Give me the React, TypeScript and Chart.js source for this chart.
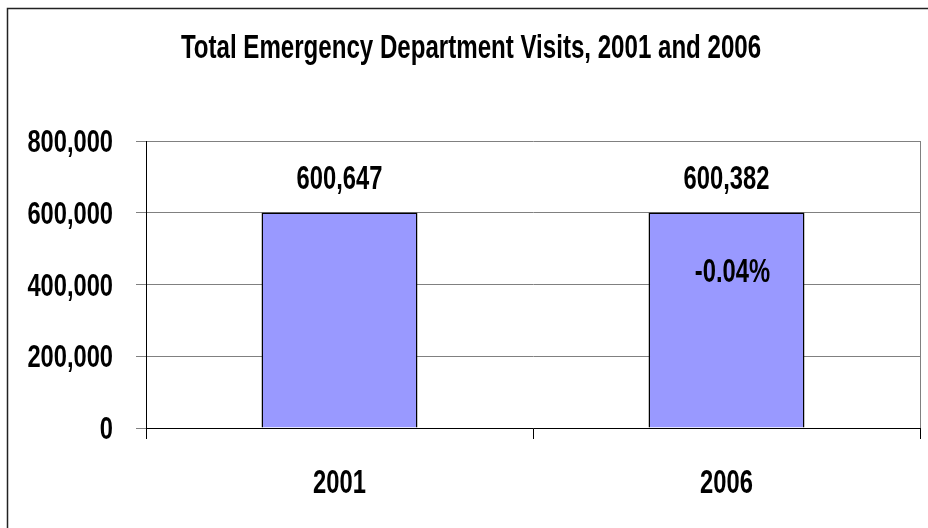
import React, { useEffect, useRef } from "react";
import { Chart, registerables } from "chart.js";

Chart.register(...registerables);

const categories = ["2001", "2006"];
const visits = [600647, 600382];
const valueLabels = ["600,647", "600,382"];
const changeLabels = ["", "-0.04%"];
const yTicks = [0, 200000, 400000, 600000, 800000];
const chartTitle = "Total Emergency Department Visits, 2001 and 2006";

const FONT = "'Liberation Sans', Arial, sans-serif";
const NARROW = 0.72;
const SIZE = 33;

function narrowText(ctx: any, text: string, x: number, y: number, align: string, size: number, narrow: number) {
  ctx.save();
  ctx.translate(x, y);
  ctx.scale(narrow, 1);
  ctx.font = "bold " + size + "px " + FONT;
  ctx.fillStyle = "#000000";
  ctx.textAlign = align;
  ctx.textBaseline = "alphabetic";
  ctx.fillText(text, 0, 0);
  ctx.restore();
}

const decorPlugin = {
  id: "decor",
  beforeDraw(chart: any) {
    const { ctx, width, height } = chart;
    ctx.save();
    ctx.fillStyle = "#ffffff";
    ctx.fillRect(0, 0, width, height);
    ctx.restore();
  },
  afterDraw(chart: any) {
    const { ctx, chartArea } = chart;
    ctx.save();
    // outer frame
    ctx.strokeStyle = "#222222";
    ctx.lineWidth = 1.5;
    ctx.strokeRect(7.5, 8.5, 2000, 2000);
    // right plot border
    ctx.strokeStyle = "#808080";
    ctx.lineWidth = 1;
    ctx.beginPath();
    ctx.moveTo(Math.round(chartArea.right) + 0.5, chartArea.top);
    ctx.lineTo(Math.round(chartArea.right) + 0.5, chartArea.bottom);
    ctx.stroke();
    ctx.restore();

    // title
    narrowText(ctx, chartTitle, 471, 58, "center", SIZE, 0.73);

    // y tick labels
    const yScale = chart.scales.y;
    yScale.ticks.forEach((t: any) => {
      narrowText(ctx, Number(t.value).toLocaleString("en-US"), 113, yScale.getPixelForValue(t.value) + 11, "right", 32, 0.74);
    });
    // x tick labels
    const xScale = chart.scales.x;
    categories.forEach((c, i) => {
      narrowText(ctx, c, xScale.getPixelForValue(i), 493, "center", SIZE, NARROW);
    });

    // value labels
    const meta = chart.getDatasetMeta(0);
    meta.data.forEach((bar: any, i: number) => {
      narrowText(ctx, valueLabels[i], bar.x, bar.y - 24, "center", SIZE, NARROW);
      if (changeLabels[i]) {
        narrowText(ctx, changeLabels[i], bar.x + 6, yScale.getPixelForValue(440000) + 12, "center", SIZE, NARROW);
      }
    });
  },
};

export default function App() {
  const ref = useRef<HTMLCanvasElement | null>(null);
  useEffect(() => {
    if (!ref.current) return;
    const chart = new Chart(ref.current, {
      type: "bar",
      data: {
        labels: categories,
        datasets: [
          {
            data: visits,
            backgroundColor: "#9999FF",
            borderColor: "#000000",
            borderWidth: 1.5,
            categoryPercentage: 1,
            barPercentage: 0.403,
          },
        ],
      },
      options: {
        animation: false,
        responsive: false,
        maintainAspectRatio: false,
        layout: { padding: { top: 141, right: 8, left: 0, bottom: 0 } },
        plugins: {
          legend: { display: false },
          tooltip: { enabled: false },
          title: { display: false },
        },
        scales: {
          x: {
            offset: true,
            grid: {
              offset: true,
              drawOnChartArea: false,
              drawTicks: true,
              tickLength: 11,
              color: "#000000",
            },
            border: { color: "#000000", width: 1 },
            ticks: { display: false },
            afterFit(scale: any) {
              scale.height = 100;
            },
          },
          y: {
            min: 0,
            max: 800000,
            afterBuildTicks(scale: any) {
              scale.ticks = yTicks.map((v) => ({ value: v }));
            },
            grid: {
              color: "#808080",
              drawTicks: true,
              tickLength: 10,
            },
            border: { color: "#000000", width: 1 },
            ticks: { display: false },
            afterFit(scale: any) {
              scale.width = 146;
            },
          },
        },
      },
      plugins: [decorPlugin],
    });
    return () => chart.destroy();
  }, []);
  return (
    <div style={{ position: "absolute", left: 0, top: 0, width: 928, height: 528 }}>
      <canvas ref={ref} width={928} height={528} style={{ display: "block" }} />
    </div>
  );
}
